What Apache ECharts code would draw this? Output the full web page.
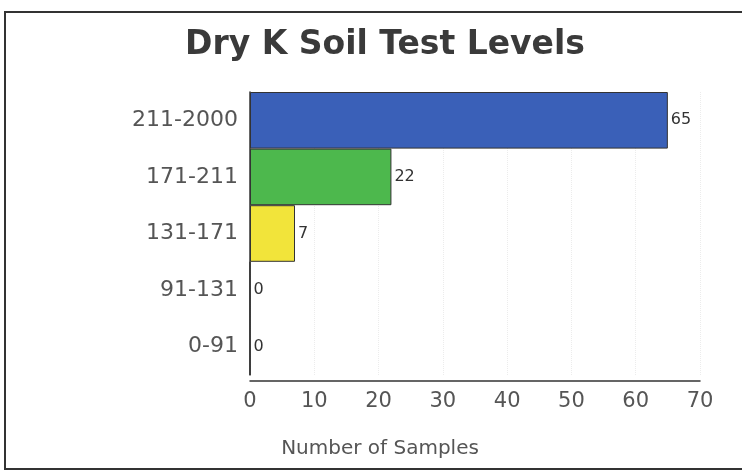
<!DOCTYPE html>
<html style="height: 100%">
<head>
    <meta charset="utf-8">
    <title>Dry K Soil Test Levels</title>
</head>
<body style="height: 100%; margin: 0; background: #fff">
<div id="container" style="width: 742px; height: 472px"></div>
<script type="text/javascript" src="https://cdn.jsdelivr.net/npm/echarts@6/dist/echarts.min.js"></script>
<script type="text/javascript">
    // chart data
    var levels = ['0-91', '91-131', '131-171', '171-211', '211-2000'];
    var samples = [0, 0, 7, 22, 65];
    var barColors = ['#3a60b8', '#3a60b8', '#f2e43a', '#4db84d', '#3a60b8'];
    var xTicks = [0, 10, 20, 30, 40, 50, 60, 70];

    var dom = document.getElementById('container');
    var myChart = echarts.init(dom);

    var option = {
        backgroundColor: '#ffffff',
        animation: false,
        title: {
            text: 'Dry K Soil Test Levels',
            left: 180,
            top: 24,
            textStyle: {
                fontFamily: 'DejaVu Sans',
                fontWeight: 'bold',
                fontSize: 33,
                color: '#3a3a3a'
            }
        },
        graphic: [{
            type: 'rect',
            shape: {x: 5, y: 12, width: 760, height: 457},
            style: {fill: 'none', stroke: '#333', lineWidth: 2}
        }],
        grid: {
            left: 250,
            right: 42,
            top: 92,
            bottom: 97
        },
        xAxis: {
            type: 'value',
            min: xTicks[0],
            max: xTicks[xTicks.length - 1],
            interval: 10,
            offset: 6,
            name: 'Number of Samples',
            nameLocation: 'middle',
            nameGap: 58,
            nameTextStyle: {
                fontFamily: 'DejaVu Sans',
                fontSize: 20,
                color: '#555',
                padding: [0, 190, 0, 0]
            },
            axisLine: {show: true, lineStyle: {color: '#333', width: 1.5}},
            axisTick: {show: false},
            axisLabel: {
                margin: 10,
                fontFamily: 'DejaVu Sans',
                fontSize: 21,
                color: '#555'
            },
            splitLine: {show: true, lineStyle: {color: '#ececec', type: 'dotted'}}
        },
        yAxis: {
            type: 'category',
            data: levels,
            axisLine: {show: true, lineStyle: {color: '#333', width: 1.5}},
            axisTick: {show: false},
            axisLabel: {
                margin: 12,
                fontFamily: 'DejaVu Sans',
                fontSize: 22,
                color: '#555'
            }
        },
        series: [{
            type: 'bar',
            barCategoryGap: '0%',
            data: samples.map(function (v, i) {
                return {value: v, itemStyle: {color: barColors[i]}};
            }),
            itemStyle: {borderColor: '#333', borderWidth: 1},
            label: {
                show: true,
                position: 'right',
                distance: 3,
                fontFamily: 'DejaVu Sans',
                fontSize: 16,
                color: '#333'
            }
        }]
    };

    myChart.setOption(option);
</script>
</body>
</html>
